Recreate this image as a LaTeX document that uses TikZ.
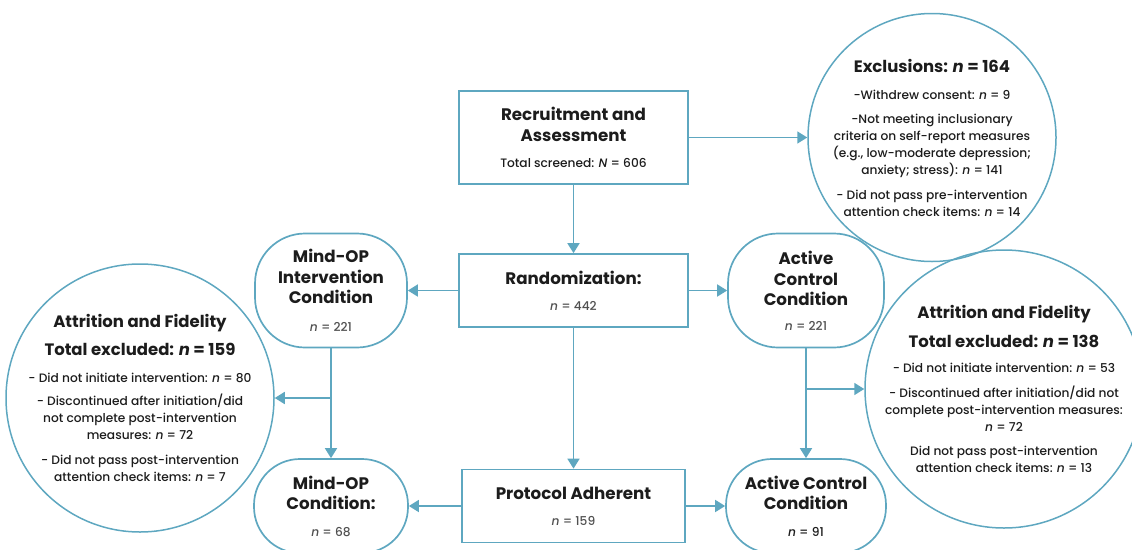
\documentclass[tikz,border=0pt]{standalone}
\usepackage{fontspec}
\setmainfont{Poppins}[UprightFont=* Medium, ItalicFont=* Medium Italic, BoldFont=* Bold, BoldItalicFont=* Bold Italic]
\usetikzlibrary{arrows.meta}
\definecolor{lineblue}{RGB}{94,167,192}
\definecolor{ink}{RGB}{28,28,28}
\definecolor{greyink}{RGB}{80,80,80}
\begin{document}
\begin{tikzpicture}[x=1pt,y=-1pt,
  every node/.style={text=ink, align=center, inner sep=0pt},
  boxnode/.style={draw=lineblue, line width=1.7pt, rectangle, minimum height=73pt, font=\fontsize{12.2}{17}\selectfont},
  stadium/.style={draw=lineblue, line width=1.7pt, rectangle, rounded corners=50pt, font=\fontsize{12.2}{17}\selectfont},
  bubble/.style={draw=lineblue, line width=1.5pt, circle},
  bubtext/.style={font=\fontsize{12.2}{17}\selectfont},
  link/.style={draw=lineblue, line width=1.7pt, -{Triangle[length=10pt,width=12pt]}},
]
\useasboundingbox (0,0) rectangle (1132,549);
\clip (0,0) rectangle (1132,549);
\newcommand{\ttl}[1]{{\fontsize{16.7}{17}\selectfont\bfseries #1}}
\newcommand{\ctl}[1]{{\fontsize{16.5}{17}\selectfont\bfseries #1}}
\newcommand{\nn}[1]{{\color{greyink}\textit{n} = #1}}

% boxes
\node[boxnode, minimum width=229pt, minimum height=93pt] (rec) at (573.5,137.5)
  {\ttl{Recruitment and}\\[4pt]\ttl{Assessment}\\[9pt]Total screened: \textit{N} = 606};
\node[boxnode, minimum width=229pt] (rand) at (573.5,290.5)
  {\ttl{Randomization:}\\[9pt]\nn{442}};
\node[boxnode, minimum width=223pt] (prot) at (573.5,506)
  {\ttl{Protocol Adherent}\\[9pt]\nn{159}};

% stadium nodes
\node[stadium, minimum width=152pt, minimum height=114pt] (mio) at (331,290.5)
  {\ttl{Mind-OP}\\[4pt]\ttl{Intervention}\\[3pt]\ttl{Condition}\\[11pt]\nn{221}};
\node[stadium, minimum width=156pt, minimum height=114pt] (aco) at (806,290.5)
  {\ttl{Active}\\[4pt]\ttl{Control}\\[3pt]\ttl{Condition}\\[8pt]\nn{221}};
\node[stadium, rounded corners=46pt, minimum width=154pt, minimum height=94pt] (moc) at (331,506)
  {\ttl{Mind-OP}\\[3pt]\ttl{Condition:}\\[10pt]\nn{68}};
\node[stadium, rounded corners=46pt, minimum width=160pt, minimum height=94pt] (acc) at (806,506)
  {\ttl{Active Control}\\[3pt]\ttl{Condition}\\[10pt]{\textit{n} = 91}};

% circles
\node[bubble, minimum size=248pt] (exc) at (932,137.5) {};
\node[bubtext] (exctext) at (exc.center)
  {\ctl{Exclusions: \textit{n} = 164}\\[10pt]
   -Withdrew consent: \textit{n} = 9\\[7pt]
   -Not meeting inclusionary\\
   criteria on self-report measures\\
   (e.g., low-moderate depression;\\
   anxiety; stress): \textit{n} = 141\\[8pt]
   - Did not pass pre-intervention\\
   attention check items: \textit{n} = 14};
\node[bubble, minimum size=268pt] (lat) at (140,398) {};
\node[bubtext] (lattext) at (lat.center)
  {\ctl{Attrition and Fidelity}\\[11pt]
   \ctl{Total excluded: \textit{n} = 159}\\[10pt]
   - Did not initiate intervention: \textit{n} = 80\\[6pt]
   - Discontinued after initiation/did\\
   not complete post-intervention\\
   measures: \textit{n} = 72\\[8pt]
   - Did not pass post-intervention\\
   attention check items: \textit{n} = 7};
\node[bubble, minimum size=278pt] (rat) at (1004,389) {};
\node[bubtext] (rattext) at (rat.center)
  {\ctl{Attrition and Fidelity}\\[12pt]
   \ctl{Total excluded: \textit{n} = 138}\\[8pt]
   - Did not initiate intervention: \textit{n} = 53\\[8pt]
   - Discontinued after initiation/did not\\
   complete post-intervention measures:\\
   \textit{n} = 72\\[7pt]
   Did not pass post-intervention\\
   attention check items: \textit{n} = 13};

% connectors
\draw[link] (rec.east) -- (exc.west);
\draw[link] (rec.south) -- (rand.north);
\draw[link] (rand.west) -- (mio.east);
\draw[link] (rand.east) -- (aco.west);
\draw[link] (rand.south) -- (prot.north);
\draw[link] (prot.west) -- (moc.east);
\draw[link] (prot.east) -- (acc.west);
\draw[link] (mio.south) -- (moc.north);
\draw[link] (aco.south) -- (acc.north);
\coordinate (lbr) at (mio.south |- lat.east);
\coordinate (rbr) at (aco.south |- rat.west);
\draw[link] (lbr) -- (lat.east);
\draw[link] (rbr) -- (rat.west);
\end{tikzpicture}
\end{document}
